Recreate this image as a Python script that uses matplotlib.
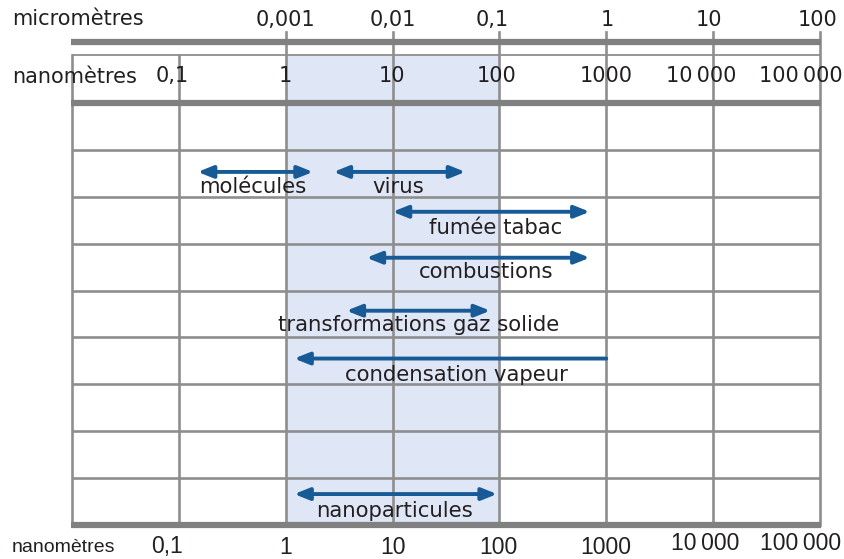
import matplotlib
matplotlib.use("Agg")
import matplotlib.pyplot as plt
import numpy as np

# ---------------- data ----------------
micro_ticks_nm = [1, 10, 100, 1000, 10000, 100000]          # positions in nm
micro_labels = ['0,001', '0,01', '0,1', '1', '10', '100']
nano_ticks = [0.1, 1, 10, 100, 1000, 10000, 100000]
nano_labels = ['0,1', '1', '10', '100', '1000', '10\u2009000', '100\u2009000']

sources = ['molécules', 'virus', 'fumée tabac', 'combustions',
           'transformations gaz solide', 'condensation vapeur', 'nanoparticules']
size_min = [0.15, 2.8, 10, 5.7, 3.7, 1.2, 1.2]      # nm
size_max = [1.8, 48, 700, 700, 82, 1000, 95]        # nm
rows = [1, 1, 2, 3, 4, 5, 8]
heads = ['both', 'both', 'both', 'both', 'both', 'left', 'both']
nano_band = (1, 100)
n_rows = 9

# ---------------- layout / style ----------------
W, H = 845, 559
TOP, BOT, LEFT, RIGHT = 103, 525, 72, 820
ROW = (BOT - TOP) / n_rows
def r(ypx):
    return (ypx - TOP) / ROW

arrow_dy = [0.47, 0.47, 0.32, 0.30, 0.43, 0.45, 0.34]
label_dy = [0.92, 0.92, 0.80, 0.74, 0.86, 0.92, 0.82]
label_dx = [-3, -1, 4, 8, 0, 6, -1]      # pixels

BLUE = '#175a95'
GRID = '#8e8e8e'
BAR = '#808080'
BAND = '#dfe7f6'
TXT = '#231f20'
FONT = ['DejaVu Sans']
FONT_B = ['Liberation Sans', 'DejaVu Sans']

fig = plt.figure(figsize=(W / 100, H / 100), dpi=100)
ax = fig.add_axes([LEFT / W, (H - BOT) / H, (RIGHT - LEFT) / W, (BOT - TOP) / H])
ax.set_xscale('log')
ax.set_xlim(0.01, 1e5)
ax.set_ylim(n_rows, 0)
ax.axis('off')

# shaded nano band
ax.fill_between(nano_band, [r(55)] * 2, [n_rows] * 2, color=BAND, lw=0,
                zorder=0, clip_on=False)

# horizontal grid lines
for k in range(1, n_rows):
    ax.plot([0.01, 1e5], [k, k], color=GRID, lw=1.9, zorder=1,
            solid_capstyle='butt', clip_on=False)

# vertical lines
ax.plot([0.01, 0.01], [r(55), n_rows], color=GRID, lw=1.9, zorder=1, clip_on=False)
for t in nano_ticks:
    top = r(55) if t < 1 else r(32)
    ax.plot([t, t], [top, n_rows], color=GRID, lw=1.9, zorder=1, clip_on=False)

# thick bars and thin line
for yb in [r(42), 0, n_rows]:
    ax.plot([0.0097, 1.03e5], [yb, yb], color=BAR, lw=4.5, zorder=2,
            solid_capstyle='butt', clip_on=False)
ax.plot([0.01, 1e5], [r(55), r(55)], color=GRID, lw=1.3, zorder=2,
        solid_capstyle='butt', clip_on=False)

# header labels
fig.text(12 / W, 1 - 19 / H, 'micromètres', fontsize=15, family=FONT,
         color=TXT, va='center', ha='left')
fig.text(12 / W, 1 - 77 / H, 'nanomètres', fontsize=15, family=FONT,
         color=TXT, va='center', ha='left')
fig.text(12 / W, 1 - 547 / H, 'nanomètres', fontsize=14, family=FONT_B,
         color=TXT, va='center', ha='left')

micro_dx = [0, 0, -7, 1, -4, -2]
for t, lab, dx in zip(micro_ticks_nm, micro_labels, micro_dx):
    ax.annotate(lab, (t, r(20)), xytext=(dx, 0), textcoords='offset pixels',
                ha='center', va='center', fontsize=15, family=FONT, color=TXT,
                annotation_clip=False, zorder=5)

nano_dx = [-7, 0, -1, -3, 0, -12, -19]
for t, lab, dx in zip(nano_ticks, nano_labels, nano_dx):
    ax.annotate(lab, (t, r(76)), xytext=(dx, 0), textcoords='offset pixels',
                ha='center', va='center', fontsize=15, family=FONT, color=TXT,
                annotation_clip=False, zorder=5)

bot_dx = [-12, 0, 0, -1, -1, -8, -19]
bot_y = [547, 547, 547, 547, 547, 544, 544]
for t, lab, dx, yy in zip(nano_ticks, nano_labels, bot_dx, bot_y):
    ax.annotate(lab, (t, r(yy)), xytext=(dx, 0), textcoords='offset pixels',
                ha='center', va='center', fontsize=16.5, family=FONT_B, color=TXT,
                annotation_clip=False, zorder=5)

# arrows and labels
for name, lo, hi, row, hd, ady, ldy, ldx in zip(sources, size_min, size_max, rows,
                                                 heads, arrow_dy, label_dy, label_dx):
    y = row + ady
    if hd == 'both':
        style = '<|-|>,head_length=0.45,head_width=0.18'
        xy, xyt = (hi, y), (lo, y)
    else:
        style = '-|>,head_length=0.45,head_width=0.18'
        xy, xyt = (lo, y), (hi, y)
    ax.annotate('', xy=xy, xytext=xyt,
                arrowprops=dict(arrowstyle=style, color=BLUE, lw=2.8,
                                shrinkA=0, shrinkB=0, mutation_scale=20),
                annotation_clip=False, zorder=4)
    xc = np.sqrt(lo * hi)
    ax.annotate(name, (xc, row + ldy), xytext=(ldx, 0), textcoords='offset pixels',
                ha='center', va='baseline', fontsize=15.3, family=FONT, color=TXT,
                annotation_clip=False, zorder=5)

fig.savefig('out.png', dpi=100)
